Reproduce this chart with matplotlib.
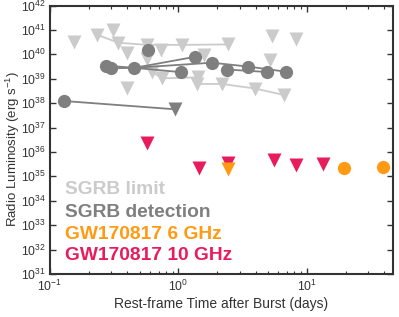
import matplotlib
matplotlib.use("Agg")
import matplotlib.pyplot as plt
from matplotlib.ticker import LogLocator, NullFormatter, NullLocator

plt.rcParams['font.family'] = ['Liberation Sans', 'DejaVu Sans']
plt.rcParams['mathtext.fontset'] = 'custom'
plt.rcParams['mathtext.rm'] = 'Liberation Sans'

# SGRB limits (upper limits, light gray triangles): time (days), log10 L
lim_t = [0.1545, 0.234, 0.311, 0.340, 0.396, 0.400, 0.567, 0.573, 0.624, 0.733, 0.742,
         1.063, 1.43, 1.39, 1.585, 2.18, 2.45, 3.96, 5.14, 5.35, 6.58, 8.26]
lim_L = [40.52, 40.80, 40.98, 40.48, 40.04, 38.61, 40.39, 39.80, 39.29, 40.20, 39.02,
         40.39, 39.06, 38.79, 39.98, 38.79, 40.41, 38.60, 39.77, 40.75, 38.34, 40.65]
# limit light curves (indices into lim lists)
lim_curves = [[1, 3, 6, 11, 16], [8, 10, 12], [13, 15, 17, 20]]

# SGRB detections (dark gray circles)
det_t = [0.1285, 0.272, 0.296, 0.454, 0.583, 1.055, 1.342, 1.82, 2.37, 3.51, 4.89, 6.87]
det_L = [38.09, 39.54, 39.43, 39.45, 40.18, 39.27, 39.90, 39.66, 39.38, 39.50, 39.28, 39.29]
# dark gray limit
dlim_t = [0.942]
dlim_L = [37.75]
# detection light curves (segments)
det_curves = [[1, 3, 6], [3, 7], [3, 5], [2, 3], [7, 9, 11], [8, 10]]

# GW170817
g10_t = [0.567, 1.45, 2.45, 5.50, 8.26, 13.3]
g10_L = [36.36, 35.33, 35.56, 35.67, 35.47, 35.50]
g6lim_t = [2.45]
g6lim_L = [35.30]
g6_t = [19.3, 39.2]
g6_L = [35.33, 35.40]

light = '#cbcbcb'
dark = '#7f7f7f'
orange = '#ff9a12'
magenta = '#e81c5c'

fig = plt.figure(figsize=(3.99, 3.17), dpi=100)
ax = fig.add_axes([50/399, 1-274/317, (393-50)/399, (274-5.6)/317])

def P(v):
    return [10**x for x in v]

# light curves of limits
for c in lim_curves:
    ax.plot([lim_t[i] for i in c], P([lim_L[i] for i in c]), '-', color=light, lw=1.3, zorder=1)
ax.plot(lim_t, P(lim_L), 'v', color=light, ms=10, mec='none', zorder=2)

# first detection -> dark limit
ax.plot([det_t[0], dlim_t[0]], P([det_L[0], dlim_L[0]]), '-', color=dark, lw=1.3, zorder=3)
for c in det_curves:
    ax.plot([det_t[i] for i in c], P([det_L[i] for i in c]), '-', color=dark, lw=1.3, zorder=3)
ax.plot(det_t, P(det_L), 'o', color=dark, ms=9.5, mec='none', zorder=4)
ax.plot(dlim_t, P(dlim_L), 'v', color=dark, ms=10, mec='none', zorder=4)

ax.plot(g10_t, P(g10_L), 'v', color=magenta, ms=10, mec='none', zorder=5)
ax.plot(g6lim_t, P(g6lim_L), 'v', color=orange, ms=10, mec='none', zorder=6)
ax.plot(g6_t, P(g6_L), 'o', color=orange, ms=9.5, mec='none', zorder=6)

ax.set_xscale('log')
ax.set_yscale('log')
ax.set_xlim(0.1, 46.8)
ax.set_ylim(1e31, 1e42)

ax.yaxis.set_major_locator(LogLocator(base=10, numticks=20))
ax.yaxis.set_minor_locator(NullLocator())
ax.xaxis.set_minor_locator(LogLocator(base=10, subs=range(2, 10), numticks=20))
ax.xaxis.set_minor_formatter(NullFormatter())

ax.tick_params(which='both', direction='in', top=True, right=True, labelsize=8.8, colors='#333333')
ax.tick_params(axis='y', pad=3)
ax.tick_params(which='major', length=4, width=1)
ax.tick_params(which='minor', length=2.5, width=0.8)
for s in ax.spines.values():
    s.set_linewidth(1.5)
    s.set_color('#333333')

ax.set_xlabel('Rest-frame Time after Burst (days)', fontsize=10, color='#333333', labelpad=2)
ax.set_ylabel('Radio Luminosity (erg s$^{-1}$)', fontsize=9.5, color='#333333')
ax.yaxis.set_label_coords(-0.083, 0.466)

labels = ['SGRB limit', 'SGRB detection', 'GW170817 6 GHz', 'GW170817 10 GHz']
lcolors = [light, dark, orange, magenta]
ys = [190, 212.3, 234.3, 255.5]
for lab, col, y in zip(labels, lcolors, ys):
    fig.text(65/399, 1 - y/317, lab, color=col, fontsize=13.8, fontweight='bold',
             va='center', ha='left')

fig.savefig('out.png', dpi=100)
